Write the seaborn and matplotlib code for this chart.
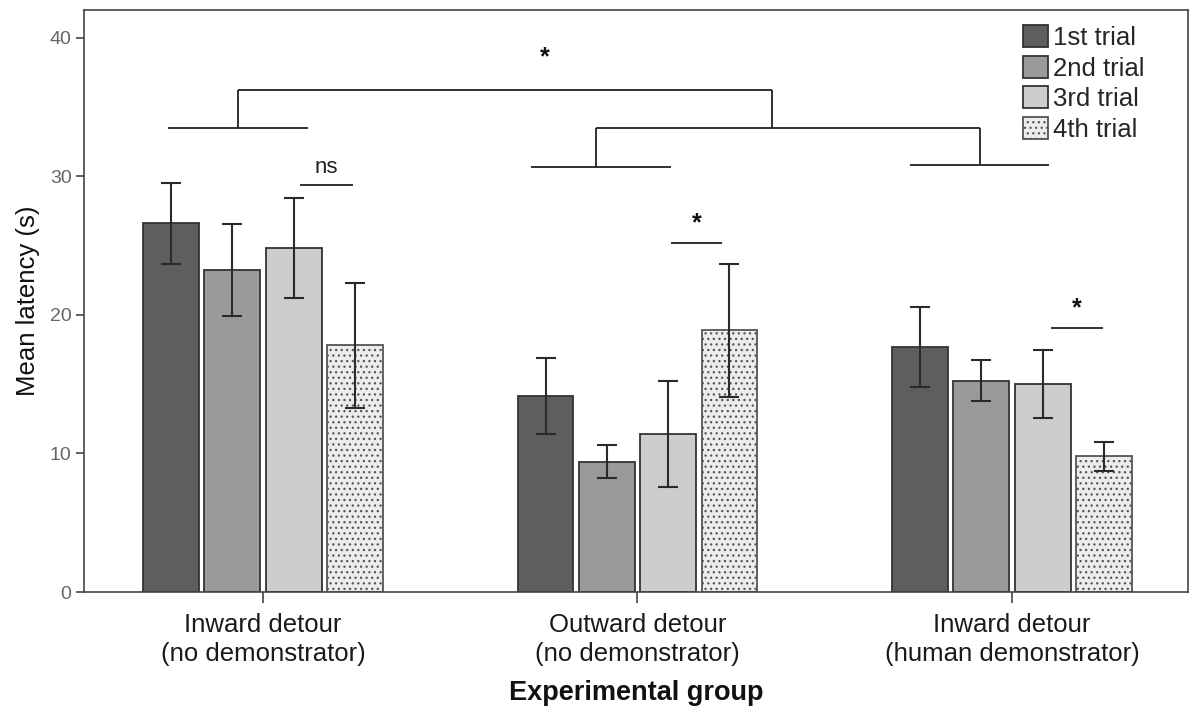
import matplotlib
matplotlib.use("Agg")
import matplotlib.pyplot as plt
import seaborn as sns
import pandas as pd
import numpy as np

# ---- data ----
groups = ["Inward detour\n(no demonstrator)",
          "Outward detour\n(no demonstrator)",
          "Inward detour\n(human demonstrator)"]
trials = ["1st trial", "2nd trial", "3rd trial", "4th trial"]

trial1_mean = [26.6, 14.15, 17.7]
trial2_mean = [23.25, 9.4, 15.25]
trial3_mean = [24.8, 11.4, 15.0]
trial4_mean = [17.8, 18.9, 9.8]

trial1_err = [2.9, 2.75, 2.9]
trial2_err = [3.3, 1.2, 1.5]
trial3_err = [3.6, 3.8, 2.45]
trial4_err = [4.5, 4.8, 1.05]

y_ticks = [0, 10, 20, 30, 40]

means = [trial1_mean, trial2_mean, trial3_mean, trial4_mean]
errs = [trial1_err, trial2_err, trial3_err, trial4_err]

rows = []
for t, m, e in zip(trials, means, errs):
    for g, mv, ev in zip(groups, m, e):
        rows.append({"group": g, "trial": t, "mean": mv, "err": ev})
df = pd.DataFrame(rows)

# ---- style ----
sns.set_theme(style="white")
plt.rcParams["font.family"] = ["Liberation Sans", "DejaVu Sans"]
plt.rcParams["hatch.linewidth"] = 0.9

colors = ["#5e5e5e", "#9a9a9a", "#cdcdcd", "#ececec"]
edge = "#333333"

fig = plt.figure(figsize=(11.92, 7.08), dpi=100)
ax = fig.add_axes([0.0705, 0.1638, 0.9966 - 0.0705, 0.986 - 0.1638])

sns.barplot(data=df, x="group", y="mean", hue="trial", order=groups,
            hue_order=trials, palette=colors, errorbar=None, width=0.655,
            gap=0.09, edgecolor=edge, linewidth=1.3, legend=False, ax=ax)

bar_containers = list(ax.containers)

# hatch for 4th trial, error bars
for i, cont in enumerate(bar_containers):
    xs = [p.get_x() + p.get_width() / 2 for p in cont.patches]
    hs = [p.get_height() for p in cont.patches]
    if i == 3:
        for p in cont.patches:
            p.set_hatch("...")
            p.set_edgecolor("#555555")
    ax.errorbar(xs, hs, yerr=errs[i], fmt="none", ecolor="#2a2a2a",
                elinewidth=1.5, capsize=7, capthick=1.5, zorder=5)

# ---- significance annotations ----
lc = "#222222"
lw = 1.3
def hline(y, x0, x1):
    ax.plot([x0, x1], [y, y], color=lc, lw=lw, solid_capstyle="butt")
def vline(x, y0, y1):
    ax.plot([x, x], [y0, y1], color=lc, lw=lw, solid_capstyle="butt")

hline(33.5, -0.254, 0.12)
vline(-0.067, 33.5, 36.2)
hline(36.2, -0.067, 1.359)
vline(1.359, 33.5, 36.2)
hline(33.5, 0.889, 1.915)
vline(0.889, 30.7, 33.5)
vline(1.915, 30.8, 33.5)
hline(30.7, 0.716, 1.089)
hline(30.8, 1.728, 2.10)
ax.text(0.753, 38.6, "*", ha="center", va="center", fontsize=18, color="#111", fontweight="bold")

hline(29.4, 0.10, 0.24)
ax.text(0.17, 30.6, "ns", ha="center", va="center", fontsize=16, color="#222")
hline(25.15, 1.089, 1.227)
ax.text(1.158, 26.6, "*", ha="center", va="center", fontsize=18, color="#111", fontweight="bold")
hline(19.04, 2.104, 2.243)
ax.text(2.174, 20.5, "*", ha="center", va="center", fontsize=18, color="#111", fontweight="bold")

# ---- axes ----
ax.set_xlim(-0.478, 2.47)
ax.set_ylim(0, 42.0)
ax.set_yticks(y_ticks)
ax.set_yticklabels([str(v) for v in y_ticks], fontsize=14, color="#666666")
ax.set_xticks(range(len(groups)))
ax.set_xticklabels(groups, fontsize=18.5, color="#1a1a1a", linespacing=1.25)
ax.tick_params(axis="y", direction="out", length=6, width=1.2, color="#444", left=True, pad=3)
ax.tick_params(axis="x", direction="out", length=8, width=1.2, color="#444", bottom=True, pad=7)
ax.set_xlabel("Experimental group", fontsize=19.5, fontweight="bold", labelpad=10, color="#111")
ax.set_ylabel("Mean latency (s)", fontsize=18.5, labelpad=7, color="#111")
for s in ax.spines.values():
    s.set_visible(True)
    s.set_color("#444444")
    s.set_linewidth(1.2)

leg = ax.legend(bar_containers, trials, loc="upper left", bbox_to_anchor=(0.851, 0.974),
                frameon=False, fontsize=18.5, handlelength=0.95, handleheight=0.95,
                handletextpad=0.2, labelspacing=0.22, borderpad=0, borderaxespad=0)

fig.savefig("out.png", dpi=100)
